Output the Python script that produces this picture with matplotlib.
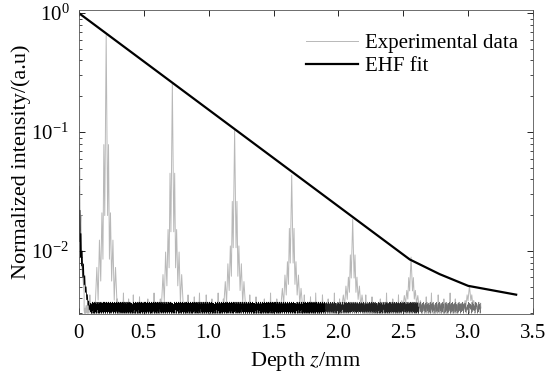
import numpy as np
import matplotlib.pyplot as plt

plt.rcParams['font.family'] = ['Liberation Serif', 'DejaVu Serif']
plt.rcParams['mathtext.fontset'] = 'stix'

# EHF fit
fit_z = [0.0, 2.55, 2.78, 3.0, 3.37]
fit_i = [1.0, 0.0085, 0.0064, 0.0051, 0.0043]

# reflection peaks of the experimental trace
peak_z = [0.21, 0.72, 1.20, 1.64, 2.11, 2.56, 3.01]
peak_i = [0.65, 0.258, 0.104, 0.0435, 0.0185, 0.0089, 0.0051]

# shape of one peak: offset (mm) and how far down towards the floor (0 = top, 1 = floor)
shape_dz = [-0.085, -0.072, -0.062, -0.052, -0.042, -0.033, -0.025, -0.018, -0.011, -0.005, 0.0,
            0.005, 0.011, 0.018, 0.025, 0.033, 0.042, 0.052, 0.062, 0.072, 0.085]
shape_fr = [1.0, 0.85, 0.97, 0.75, 0.9, 0.65, 0.82, 0.4, 0.66, 0.28, 0.0,
            0.28, 0.66, 0.4, 0.82, 0.65, 0.9, 0.75, 0.97, 0.85, 1.0]

# steep fall right at the surface (dark trace)
surf_z = [0.0, 0.004, 0.008, 0.012, 0.016, 0.02, 0.025, 0.03, 0.035, 0.04, 0.045, 0.05,
          0.055, 0.06, 0.065, 0.07, 0.075, 0.08, 0.085, 0.09]
surf_i = [0.035, 0.012, 0.022, 0.009, 0.014, 0.0075, 0.010, 0.006, 0.0078, 0.0052, 0.0062,
          0.0045, 0.0050, 0.0039, 0.0043, 0.0035, 0.0038, 0.0032, 0.0035, 0.0031]

# surface reflection on the grey trace
gsurf_z = [0.0, 0.003, 0.006, 0.01, 0.015, 0.02, 0.03, 0.04]
gsurf_i = [0.09, 0.03, 0.05, 0.015, 0.02, 0.008, 0.006, 0.0045]

# baseline noise, read as levels 0-9 above the floor
floor_i = 0.00300
dark_noise = ("3815024736291058473620915837264019385720461937502846193750284617395028"
              "4619270358164927305816492730581649207358169427305861942730581694273058"
              "1694720358169427035816942703581692470358169247035816924703851692470385")
grey_noise = ("1020310420183102403120610230142031902104203160213042081302140230170321"
              "0310240130261032041302190230410231062013042031803120412031702140320191")

base = np.array([int(c) for c in dark_noise])
dark_z = np.arange(0.09, 2.62, 0.0015)
dark_i = floor_i + 0.00008 * base[np.arange(len(dark_z)) % len(base)]
tail_z = np.arange(2.45, 3.1, 0.0025)
tail_i = floor_i + 0.00008 * base[np.arange(len(tail_z)) % len(base)]

gbase = np.array([int(c) for c in grey_noise])
gz, gi = list(gsurf_z), list(gsurf_i)
edges = [0.04] + list(peak_z) + [3.1]
k = 0
for n in range(len(edges) - 1):
    lo = edges[n] + (0.085 if n > 0 else 0.0)
    hi = edges[n + 1] - (0.085 if n < len(peak_z) else 0.0)
    for z in np.arange(lo, hi, 0.004):
        gz.append(z)
        gi.append(floor_i + 0.00016 * gbase[k % len(gbase)])
        k += 1
    if n < len(peak_z):
        span = np.log10(peak_i[n] / (floor_i + 0.0003))
        for dz, fr in zip(shape_dz, shape_fr):
            gz.append(peak_z[n] + dz)
            gi.append(peak_i[n] * 10 ** (-fr * span))

fig = plt.figure(figsize=(5.52, 3.76), dpi=100)
ax = fig.add_axes([0.143, 0.165, 0.8226, 0.808])

ax.plot(gz, gi, color='#b8b8b8', lw=0.7, label='Experimental data')
ax.plot(tail_z, tail_i, color='#707070', lw=0.45)
ax.plot(dark_z[dark_z < 1.9], dark_i[dark_z < 1.9], color='black', lw=0.55)
ax.plot(dark_z[dark_z >= 1.9], dark_i[dark_z >= 1.9], color='#222222', lw=0.45)
ax.plot(surf_z, surf_i, color='black', lw=0.6)
ax.plot(fit_z, fit_i, color='black', lw=1.6, label='EHF fit')

ax.set_yscale('log')
ax.set_xlim(0, 3.5)
ax.set_ylim(0.00296, 1.06)
ax.set_xticks([0, 0.5, 1.0, 1.5, 2.0, 2.5, 3.0, 3.5])
ax.set_xticklabels(['0', '0.5', '1.0', '1.5', '2.0', '2.5', '3.0', '3.5'])
ax.tick_params(which='both', direction='in', top=True, right=True, labelsize=15, pad=7)
ax.tick_params(which='major', length=4, width=0.6)
ax.tick_params(which='minor', length=2.5, width=0.5)
for s in ax.spines.values():
    s.set_linewidth(0.6)
    s.set_color('#555555')

ax.set_xlabel('Depth $\\it{z}$/mm', fontsize=16, labelpad=5)
ax.set_ylabel('Normalized intensity/(a.u)', fontsize=16, labelpad=0)
ax.legend(loc='upper right', bbox_to_anchor=(1.0, 0.97), frameon=False, fontsize=15,
          handlelength=2.5, handletextpad=0.35, labelspacing=0.15, borderaxespad=0.3)

plt.savefig('out.png', dpi=100)
